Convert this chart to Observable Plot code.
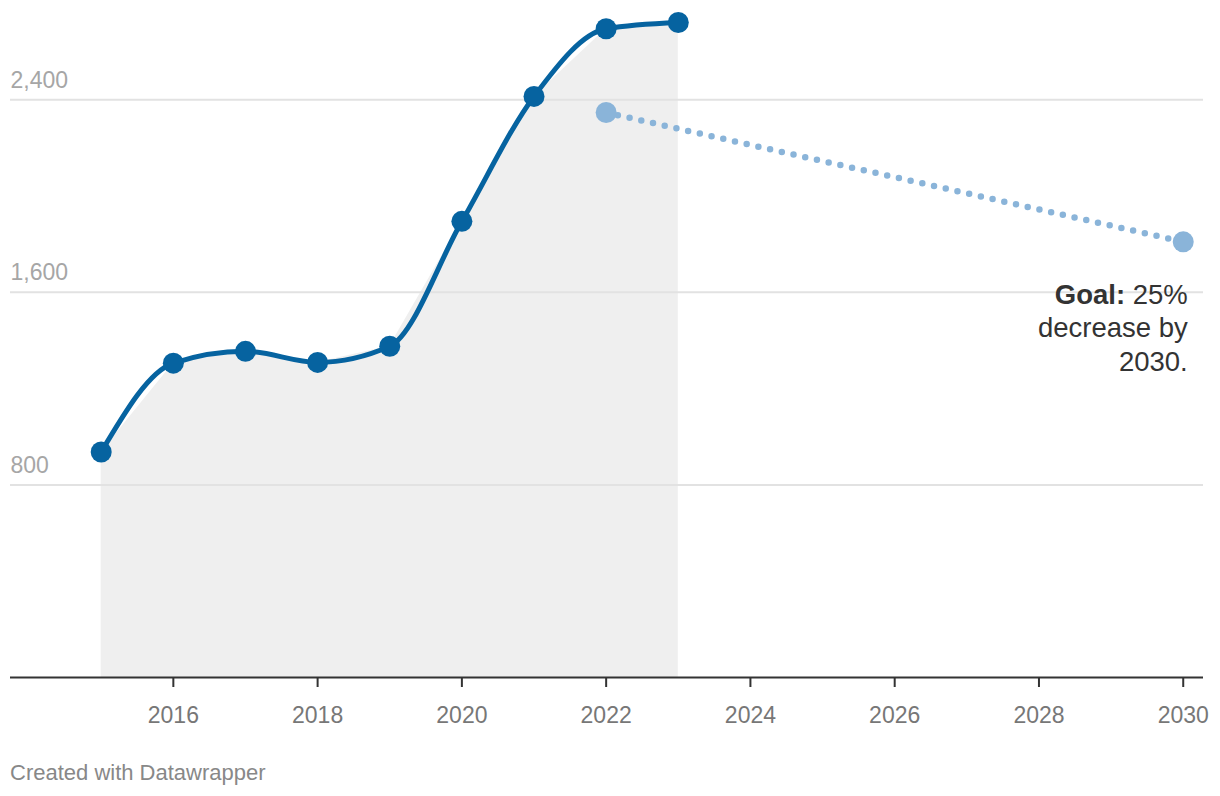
<!DOCTYPE html>
<html>
<head>
<meta charset="utf-8">
<script src="https://cdn.jsdelivr.net/npm/d3@7"></script>
<script src="https://cdn.jsdelivr.net/npm/@observablehq/plot@0.6"></script>
<style>
  html, body { margin: 0; padding: 0; background: #fff; }
  body { font-family: "Liberation Sans", Arial, Helvetica, sans-serif; width: 1220px; }
  #footer { padding: 21px 0 0 10px; font-size: 22px; line-height: 24px; color: #888; }
</style>
</head>
<body>
<div id="chart"></div>
<div id="footer">Created with Datawrapper</div>
<script>
// Data
const years = [2015, 2016, 2017, 2018, 2019, 2020, 2021, 2022, 2023];
const values = [937, 1306, 1355, 1309, 1376, 1895, 2414, 2695, 2721];
const goalYears = [2022, 2030];
const goalValues = [2347, 1810];
const xTicks = [2016, 2018, 2020, 2022, 2024, 2026, 2028, 2030];
const yTicks = [800, 1600, 2400];
const noteLines = ["Goal: 25%", "decrease by", "2030."];

const actual = years.map((x, i) => ({x, y: values[i]}));
const goal = goalYears.map((x, i) => ({x, y: goalValues[i]}));
const xDomain = [2013.7425, 2030.281];

const fmt = d3.format(",");
const blue = "#0663a0";
const lightBlue = "#8ab4d9";

const chart = Plot.plot({
  width: 1220,
  height: 740,
  marginLeft: 10,
  marginRight: 17,
  marginTop: 3,
  marginBottom: 63,
  style: {fontFamily: '"Liberation Sans", Arial, Helvetica, sans-serif', background: "#fff"},
  x: {domain: xDomain, label: null},
  y: {domain: [0, 2800], axis: null},
  marks: [
    Plot.areaY(actual, {x: "x", y: "y", fill: "#efefef"}),
    Plot.ruleY(yTicks, {stroke: "#e2e2e2", strokeWidth: 2}),
    Plot.text(yTicks, {x: xDomain[0], y: d => d, text: d => fmt(d), textAnchor: "start", lineAnchor: "bottom", dy: -12, fontSize: 23, fill: "#a6a6a6"}),
    Plot.ruleY([0], {stroke: "#333", strokeWidth: 2}),
    Plot.axisX({ticks: xTicks, tickFormat: d => String(d), label: null, tickSize: 10, tickPadding: 19, stroke: "#333", strokeWidth: 2, color: "#777", fill: "#777", fontSize: 23}),
    Plot.line(goal, {x: "x", y: "y", stroke: lightBlue, strokeWidth: 6.5, strokeDasharray: "0,12", strokeLinecap: "round"}),
    Plot.dot(goal, {x: "x", y: "y", r: 10.5, fill: lightBlue}),
    Plot.line(actual, {x: "x", y: "y", stroke: blue, strokeWidth: 5, curve: "monotone-x"}),
    Plot.dot(actual, {x: "x", y: "y", r: 10.5, fill: blue}),
    Plot.text([{x: goalYears[1], y: goalValues[1]}], {x: "x", y: "y", text: () => noteLines.join("\n"), textAnchor: "end", lineAnchor: "top", lineHeight: 1.22, dx: 4.5, dy: 38, fontSize: 27.5, fill: "#333", className: "goal-note"})
  ]
});

document.getElementById("chart").appendChild(chart);

// Make "Goal:" bold inside the first annotation line
const first = d3.select(chart).select(".goal-note text tspan");
if (!first.empty()) {
  const txt = first.text();
  const idx = txt.indexOf(":");
  first.text("");
  first.append("tspan").attr("font-weight", "bold").text(txt.slice(0, idx + 1));
  first.append("tspan").text(txt.slice(idx + 1));
}
</script>
</body>
</html>
